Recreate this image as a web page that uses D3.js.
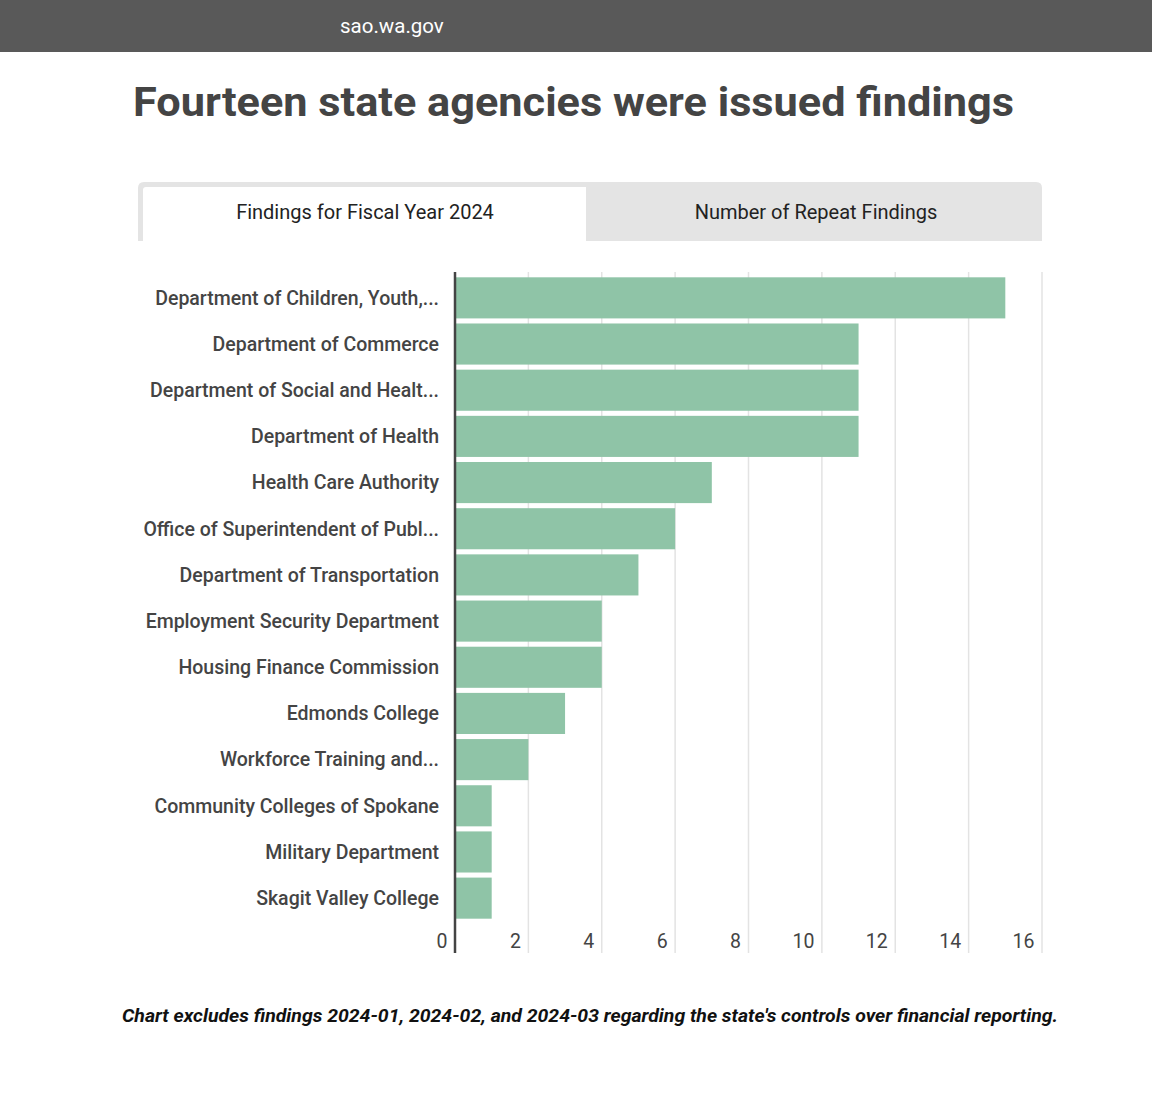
<!DOCTYPE html>
<html><head><meta charset="utf-8">
<script src="https://cdn.jsdelivr.net/npm/d3@7"></script>
<style>
body{margin:0;background:#fff;}
svg{display:block;font-family:Roboto,"Noto Sans",sans-serif;}
</style></head>
<body>
<svg id="chart" width="1152" height="1094"></svg>
<script>
const agencies = [
  "Department of Children, Youth,...",
  "Department of Commerce",
  "Department of Social and Healt...",
  "Department of Health",
  "Health Care Authority",
  "Office of Superintendent of Publ...",
  "Department of Transportation",
  "Employment Security Department",
  "Housing Finance Commission",
  "Edmonds College",
  "Workforce Training and...",
  "Community Colleges of Spokane",
  "Military Department",
  "Skagit Valley College"
];
const findings = [15, 11, 11, 11, 7, 6, 5, 4, 4, 3, 2, 1, 1, 1];
const xTicks = [0, 2, 4, 6, 8, 10, 12, 14, 16];
const tabLabels = ["Findings for Fiscal Year 2024", "Number of Repeat Findings"];
const siteName = "sao.wa.gov";
const titleText = "Fourteen state agencies were issued findings";
const noteText = "Chart excludes findings 2024-01, 2024-02, and 2024-03 regarding the state's controls over financial reporting.";

const svg = d3.select("#chart");

// top bar
svg.append("rect").attr("x",0).attr("y",0).attr("width",1152).attr("height",52).attr("fill","#595959");
svg.append("text").attr("x",340).attr("y",33).attr("fill","#fff").attr("font-size",20.5).text(siteName);

// title
svg.append("text").attr("x",133).attr("y",116).attr("fill","#444").attr("font-size",41)
  .attr("font-weight",700).attr("textLength",881).attr("lengthAdjust","spacingAndGlyphs").text(titleText);

// tabs
svg.append("path").attr("d","M138,241 V188 Q138,182 144,182 H1036 Q1042,182 1042,188 V241 Z").attr("fill","#e4e4e4");
svg.append("path").attr("d","M143,241 V190 Q143,187 146,187 H586 V241 Z").attr("fill","#fff");
svg.append("text").attr("x",365).attr("y",219).attr("text-anchor","middle").attr("fill","#222").attr("font-size",20).text(tabLabels[0]);
svg.append("text").attr("x",816).attr("y",219).attr("text-anchor","middle").attr("fill","#222").attr("font-size",20).text(tabLabels[1]);

// chart
const x = d3.scaleLinear().domain([0,16]).range([455,1042]);
const y = d3.scaleBand().domain(agencies).range([275,921]).paddingInner(0.11).paddingOuter(0.05);

// gridlines
svg.append("g").selectAll("line").data(xTicks.slice(1)).join("line")
  .attr("x1",d=>x(d)).attr("x2",d=>x(d)).attr("y1",272).attr("y2",953)
  .attr("stroke","#e3e3e3").attr("stroke-width",1.5);

// bars
svg.append("g").selectAll("rect").data(agencies).join("rect")
  .attr("x",x(0)).attr("y",d=>y(d)).attr("height",y.bandwidth())
  .attr("width",(d,i)=>x(findings[i])-x(0)).attr("fill","#8fc4a7");

// axis line
svg.append("line").attr("x1",x(0)).attr("x2",x(0)).attr("y1",272).attr("y2",953)
  .attr("stroke","#444").attr("stroke-width",2.5);

// y labels
const yAxis = d3.axisLeft(y).tickSize(0).tickPadding(16);
const gy = svg.append("g").attr("transform",`translate(${x(0)},0)`).call(yAxis);
gy.select(".domain").remove();
gy.selectAll("text").attr("font-size",19.5).attr("font-weight",500).attr("fill","#444")
  .attr("font-family","Roboto,sans-serif").attr("dy","0.35em");

// x tick labels
const xAxis = d3.axisBottom(x).tickValues(xTicks).tickSize(0).tickPadding(0);
const gx = svg.append("g").attr("transform","translate(0,948)").call(xAxis);
gx.select(".domain").remove();
gx.selectAll("text").attr("text-anchor","end").attr("dx","-8").attr("dy","0").attr("y",0)
  .attr("font-size",19.5).attr("font-weight",400).attr("fill","#444").attr("font-family","Roboto,sans-serif");

// note
svg.append("text").attr("x",590).attr("y",1022).attr("text-anchor","middle").attr("fill","#111")
  .attr("font-size",18.5).attr("font-weight",700).attr("font-style","italic")
  .attr("textLength",936).attr("lengthAdjust","spacingAndGlyphs").text(noteText);
</script>
</body></html>
